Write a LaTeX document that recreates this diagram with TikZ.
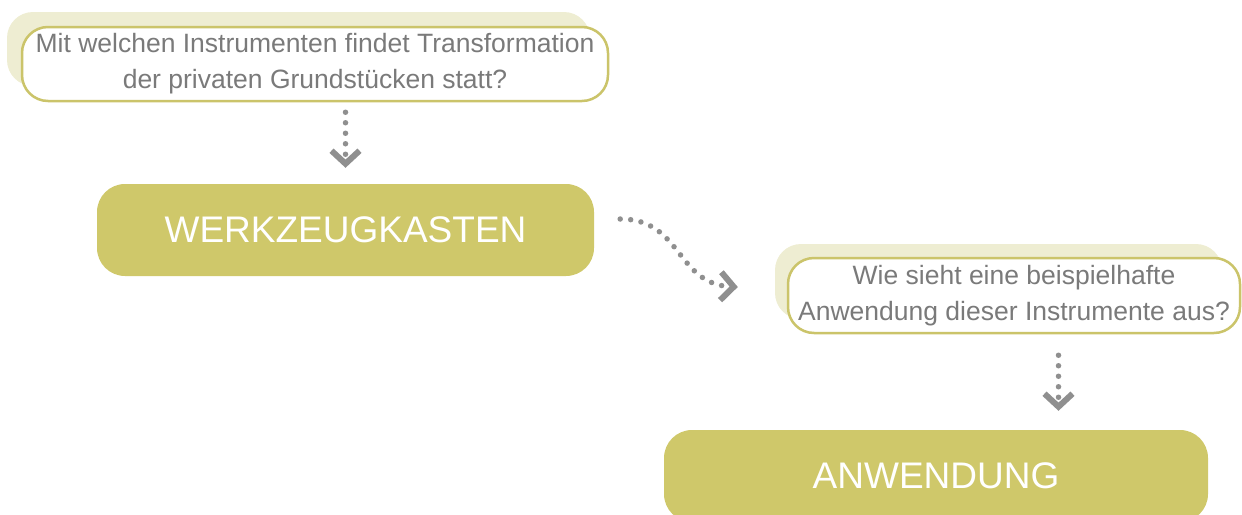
\documentclass[tikz,border=0pt]{standalone}
\usepackage{fontspec}
\setmainfont{Liberation Sans}
\usetikzlibrary{arrows.meta}
\definecolor{khaki}{HTML}{CFC86A}
\definecolor{khakiline}{HTML}{CBC46A}
\definecolor{khakilight}{HTML}{EEEDD2}
\definecolor{qtext}{HTML}{7A7A7A}
\definecolor{dotgray}{HTML}{8F8F8F}
\begin{document}
\begin{tikzpicture}[x=1pt,y=-1pt,
  shadowbox/.style={rectangle, rounded corners=26pt, fill=khakilight, inner sep=0pt},
  questionbox/.style={rectangle, rounded corners=26pt, fill=white, draw=khakiline,
    line width=2.5pt, inner sep=0pt, align=center, text=qtext,
    font=\fontsize{26.5}{36}\selectfont},
  stagebox/.style={rectangle, rounded corners=28pt, fill=khaki, inner sep=0pt,
    text=white, font=\fontsize{37}{44}\selectfont},
  dotconn/.style={dotgray, line width=5.5pt, line cap=round,
    dash pattern=on 0pt off 10.5pt,
    -{Straight Barb[length=13pt, width=28pt, line width=6pt]}}
]
\useasboundingbox (0,0) rectangle (1242,514);

% first question with its offset backdrop
\node[shadowbox, minimum width=583pt, minimum height=74pt] (q1s) at (298.5,49) {};
\node[questionbox, minimum width=586pt, minimum height=74pt] (q1) at (315,64)
  {Mit welchen Instrumenten findet Transformation\\der privaten Grundstücken statt?};

% toolbox stage
\node[stagebox, minimum width=497pt, minimum height=92pt] (tool) at (345.5,230) {WERKZEUGKASTEN};

% second question with its offset backdrop
\node[shadowbox, minimum width=447pt, minimum height=75pt] (q2s) at (998.5,281.5) {};
\node[questionbox, minimum width=452pt, minimum height=75pt] (q2) at (1014,295.5)
  {Wie sieht eine beispielhafte\\Anwendung dieser Instrumente aus?};

% application stage
\node[stagebox, minimum width=544pt, minimum height=92pt] (app) at (936,476) {ANWENDUNG};

% connectors
\draw[dotconn, shorten <=10pt, shorten >=16pt] (q1.south -| tool.north) -- (tool.north);
\draw[dotconn] ([shift={(26pt,11pt)}]tool.east)
  .. controls +(62,0) and +(-62,-3) .. ([shift={(-37pt,-5.5pt)}]q2s.west);
\draw[dotconn, shorten <=21pt, shorten >=19pt] (q2.south -| 1058.5,0) -- (app.north -| 1058.5,0);
\end{tikzpicture}
\end{document}
